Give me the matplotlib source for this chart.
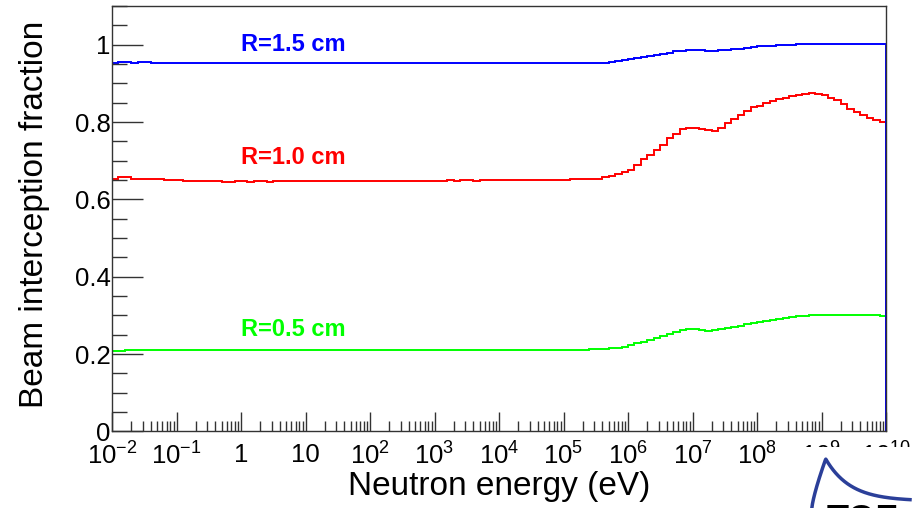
#!/usr/bin/env python3
"""
Beam interception fraction vs neutron energy for three beam radii (ROOT style histogram).
"""

import numpy as np
import matplotlib
matplotlib.use('Agg')
import matplotlib.pyplot as plt
from matplotlib.ticker import FixedLocator, MultipleLocator, NullFormatter

# bin edges: 10 bins per decade from 1e-2 to 1e10 eV
log_lo, log_hi, bins_per_decade = -2, 10, 10

# one row of 10 bins per decade
frac_r15 = [
    0.954, 0.955, 0.955, 0.954, 0.955, 0.956, 0.954, 0.953, 0.953, 0.953,   # 1e-2
    0.953, 0.953, 0.952, 0.953, 0.953, 0.952, 0.953, 0.953, 0.952, 0.952,   # 1e-1
    0.952, 0.952, 0.952, 0.952, 0.952, 0.952, 0.952, 0.952, 0.952, 0.952,   # 1
    0.952, 0.952, 0.952, 0.952, 0.952, 0.952, 0.952, 0.952, 0.952, 0.952,   # 10
    0.952, 0.952, 0.952, 0.952, 0.952, 0.952, 0.952, 0.952, 0.952, 0.952,   # 1e2
    0.952, 0.952, 0.952, 0.952, 0.952, 0.952, 0.952, 0.952, 0.952, 0.953,   # 1e3
    0.953, 0.953, 0.953, 0.953, 0.953, 0.953, 0.953, 0.953, 0.953, 0.953,   # 1e4
    0.953, 0.953, 0.953, 0.953, 0.953, 0.953, 0.954, 0.956, 0.958, 0.960,   # 1e5
    0.962, 0.965, 0.968, 0.971, 0.974, 0.977, 0.980, 0.983, 0.985, 0.986,   # 1e6
    0.986, 0.986, 0.985, 0.985, 0.986, 0.986, 0.988, 0.990, 0.992, 0.994,   # 1e7
    0.996, 0.997, 0.998, 0.999, 1.000, 1.000, 1.001, 1.001, 1.001, 1.001,   # 1e8
    1.001, 1.001, 1.001, 1.001, 1.001, 1.001, 1.001, 1.001, 1.001, 1.001,   # 1e9
]

frac_r10 = [
    0.652, 0.657, 0.658, 0.654, 0.652, 0.653, 0.654, 0.652, 0.651, 0.650,
    0.650, 0.649, 0.648, 0.648, 0.647, 0.648, 0.647, 0.646, 0.646, 0.647,
    0.647, 0.646, 0.648, 0.647, 0.646, 0.647, 0.648, 0.648, 0.647, 0.647,
    0.648, 0.648, 0.647, 0.648, 0.648, 0.648, 0.647, 0.648, 0.648, 0.648,
    0.648, 0.649, 0.648, 0.648, 0.649, 0.649, 0.648, 0.649, 0.649, 0.649,
    0.649, 0.649, 0.650, 0.649, 0.650, 0.650, 0.649, 0.650, 0.650, 0.650,
    0.650, 0.650, 0.650, 0.651, 0.650, 0.650, 0.651, 0.651, 0.651, 0.651,
    0.651, 0.652, 0.652, 0.652, 0.653, 0.654, 0.657, 0.661, 0.665, 0.670,
    0.677, 0.690, 0.705, 0.716, 0.728, 0.742, 0.758, 0.770, 0.781, 0.786,
    0.786, 0.783, 0.780, 0.778, 0.785, 0.797, 0.808, 0.818, 0.830, 0.840,
    0.841, 0.849, 0.855, 0.859, 0.863, 0.867, 0.870, 0.873, 0.874, 0.873,
    0.869, 0.863, 0.856, 0.846, 0.835, 0.826, 0.818, 0.811, 0.805, 0.800,
]

frac_r05 = [
    0.207, 0.209, 0.211, 0.212, 0.211, 0.212, 0.212, 0.211, 0.211, 0.211,
    0.211, 0.211, 0.210, 0.211, 0.211, 0.211, 0.210, 0.210, 0.211, 0.211,
    0.211, 0.210, 0.210, 0.210, 0.211, 0.211, 0.210, 0.210, 0.210, 0.210,
    0.210, 0.210, 0.210, 0.210, 0.210, 0.210, 0.210, 0.210, 0.210, 0.210,
    0.210, 0.210, 0.210, 0.210, 0.210, 0.210, 0.210, 0.210, 0.210, 0.210,
    0.210, 0.210, 0.210, 0.210, 0.210, 0.210, 0.210, 0.210, 0.210, 0.210,
    0.210, 0.210, 0.210, 0.210, 0.210, 0.210, 0.210, 0.211, 0.211, 0.211,
    0.211, 0.211, 0.212, 0.212, 0.213, 0.213, 0.214, 0.215, 0.217, 0.219,
    0.224, 0.228, 0.232, 0.237, 0.241, 0.247, 0.253, 0.258, 0.262, 0.264,
    0.264, 0.262, 0.261, 0.263, 0.266, 0.268, 0.271, 0.274, 0.277, 0.280,
    0.283, 0.286, 0.289, 0.292, 0.294, 0.296, 0.298, 0.299, 0.300, 0.300,
    0.300, 0.300, 0.300, 0.300, 0.300, 0.300, 0.300, 0.300, 0.300, 0.298,
]

series = [
    ('R=0.5 cm', frac_r05, '#00ff00', 0.265),
    ('R=1.0 cm', frac_r10, '#ff0000', 0.709),
    ('R=1.5 cm', frac_r15, '#0000ff', 1.001),
]

tick_decades = list(range(-2, 11))
tick_labels = ['$10^{-2}$', '$10^{-1}$', '1', '10'] + ['$10^{%d}$' % d for d in range(2, 11)]


def main():
    plt.rcParams['font.family'] = ['Liberation Sans', 'DejaVu Sans']
    plt.rcParams['mathtext.fontset'] = 'custom'
    plt.rcParams['mathtext.rm'] = 'Liberation Sans'
    plt.rcParams['mathtext.default'] = 'regular'

    edges = np.logspace(log_lo, log_hi, (log_hi - log_lo) * bins_per_decade + 1)

    fig = plt.figure(figsize=(9.22, 5.08), dpi=100)
    ax = fig.add_axes([0.1215, 0.1506, 0.8395, 0.8374])

    for name, vals, col, ylab in series:
        ax.stairs(vals, edges, baseline=0, color=col, linewidth=1.4)
        ax.text(10 ** 0.813, ylab, name, color=col, fontsize=17, fontweight='bold',
                ha='center', va='center')

    ax.set_xscale('log')
    ax.set_xlim(10.0 ** log_lo, 10.0 ** log_hi)
    ax.set_ylim(0, 1.1)

    ax.xaxis.set_major_locator(FixedLocator([10.0 ** d for d in tick_decades]))
    ax.set_xticklabels(tick_labels)
    minors = [m * 10.0 ** d for d in range(-2, 10) for m in range(2, 10)]
    ax.xaxis.set_minor_locator(FixedLocator(minors))
    ax.xaxis.set_minor_formatter(NullFormatter())

    ax.yaxis.set_major_locator(FixedLocator([0, 0.2, 0.4, 0.6, 0.8, 1.0]))
    ax.set_yticklabels(['0', '0.2', '0.4', '0.6', '0.8', '1'])
    ax.yaxis.set_minor_locator(MultipleLocator(0.05))

    ax.tick_params(axis='both', which='both', direction='in', top=False, right=False,
                   labelsize=18.5, color='#333333')
    ax.tick_params(axis='y', which='major', length=22, width=1, pad=1)
    ax.tick_params(axis='y', which='minor', length=11, width=1)
    ax.tick_params(axis='x', which='major', length=14, width=1, pad=8)
    ax.tick_params(axis='x', which='minor', length=7, width=1)
    for s in ax.spines.values():
        s.set_color('#333333')
        s.set_linewidth(1)

    ax.set_ylabel('Beam interception fraction', fontsize=24)
    ax.yaxis.set_label_coords(-0.080, 0.51)
    ax.set_xlabel('Neutron energy (eV)', fontsize=24, va='top')
    ax.xaxis.set_label_coords(0.5, -0.092)

    # logo in the lower right corner, drawn over the last tick labels
    fig.patches.append(plt.Rectangle((775 / 922, 0), 1, (508 - 447) / 508,
                                     transform=fig.transFigure, facecolor='white',
                                     edgecolor='none', zorder=5))
    t = np.linspace(0, 1, 200)
    lx = 812 + 98 * t
    ly = np.where(t < 0.14, 507 - 48 * (t / 0.14) ** 0.8,
                  459 + 42 * (1 - np.exp(-(t - 0.14) / 0.25)))
    fig.add_artist(plt.Line2D(lx / 922, 1 - ly / 508, color='#2b3f99', linewidth=2.5,
                              transform=fig.transFigure, zorder=6))
    fig.text(862 / 922, 1 - 504 / 508, 'TOF', fontsize=26, fontweight='bold', color='black',
             ha='center', va='top', zorder=7)

    fig.savefig('out.png', dpi=100)


if __name__ == '__main__':
    main()
